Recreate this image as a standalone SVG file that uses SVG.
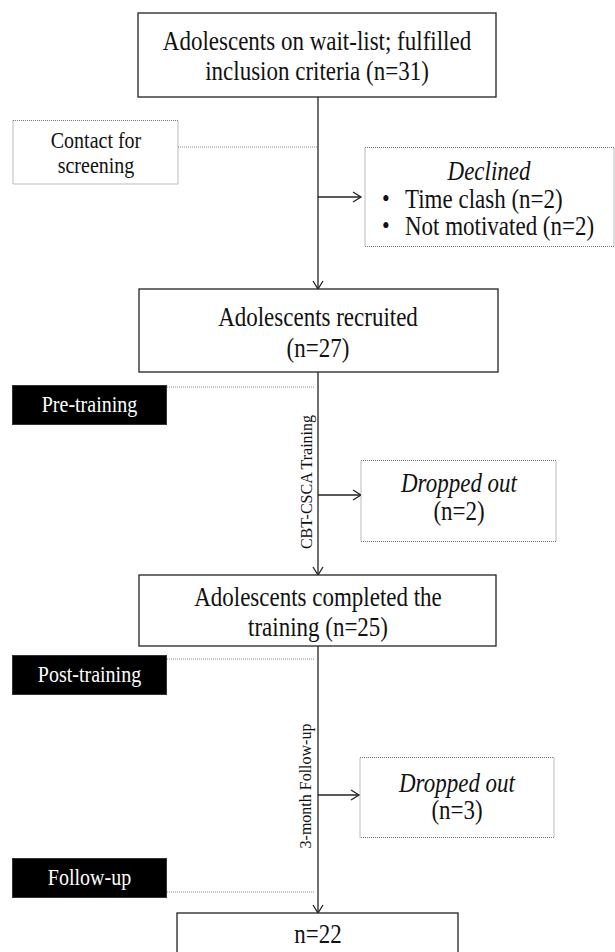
<svg xmlns="http://www.w3.org/2000/svg" width="615" height="952" viewBox="0 0 615 952">
<defs>
<style>
text{font-family:"Liberation Serif","Times New Roman",serif;fill:#111}
.t23{font-size:23px;text-anchor:middle}
.t20{font-size:20px;text-anchor:middle}
.rot{font-size:16px;text-anchor:middle}
.solid{fill:#fff;stroke:#222;stroke-width:1.3}
.dot{fill:#fff;stroke:#777;stroke-width:1;stroke-dasharray:1 1}
.blk{fill:#000;stroke:#333;stroke-width:1}
.wt{fill:#fff;font-size:20px;text-anchor:middle}
.line{stroke:#222;stroke-width:1.3;fill:none}
.dline{stroke:#888;stroke-width:1;stroke-dasharray:1 1;fill:none}
.it{font-style:italic}
</style>
<marker id="arr" markerUnits="userSpaceOnUse" markerWidth="14" markerHeight="14" refX="9" refY="6" orient="auto">
<path d="M1,1 L9,6 L1,11" fill="none" stroke="#222" stroke-width="1.3"/>
</marker>
</defs>
<rect width="615" height="952" fill="#fff"/>
<g id="connectors">
<line class="line" x1="318" y1="97" x2="318" y2="289" marker-end="url(#arr)"/>
<line class="line" x1="318" y1="197" x2="361" y2="197" marker-end="url(#arr)"/>
<line class="line" x1="318" y1="372" x2="318" y2="575" marker-end="url(#arr)"/>
<line class="line" x1="318" y1="495" x2="361" y2="495" marker-end="url(#arr)"/>
<line class="line" x1="318" y1="646" x2="318" y2="913" marker-end="url(#arr)"/>
<line class="line" x1="318" y1="795" x2="359" y2="795" marker-end="url(#arr)"/>
<line class="dline" x1="178" y1="147" x2="318" y2="147"/>
<line class="dline" x1="167" y1="387" x2="314" y2="387"/>
<line class="dline" x1="167" y1="659" x2="314" y2="659"/>
<line class="dline" x1="167" y1="892" x2="314" y2="892"/>
<text class="rot" transform="translate(312,482) rotate(-90)">CBT-CSCA Training</text>
<text class="rot" transform="translate(311,786) rotate(-90)">3-month Follow-up</text>
</g>
<g id="n1">
<rect class="solid" x="138" y="13" width="358" height="84"/>
<text class="t23" transform="translate(317,50) scale(1,1.15)">Adolescents on wait-list; fulfilled</text>
<text class="t23" transform="translate(317,80) scale(1,1.15)">inclusion criteria (n=31)</text>
</g>
<g id="contact">
<rect class="dot" x="13" y="120.5" width="165" height="63.5"/>
<text class="t20" transform="translate(96,148) scale(1,1.15)">Contact for</text>
<text class="t20" transform="translate(96,173) scale(1,1.15)">screening</text>
</g>
<g id="declined">
<rect class="dot" x="365" y="147.5" width="249" height="99"/>
<text class="t23 it" transform="translate(489,180) scale(1,1.15)">Declined</text>
<text style="font-size:22px" transform="translate(382,207) scale(1,1.15)">•</text>
<text style="font-size:23px" transform="translate(405,208) scale(1,1.15)">Time clash (n=2)</text>
<text style="font-size:22px" transform="translate(382,234) scale(1,1.15)">•</text>
<text style="font-size:23px" transform="translate(405,235) scale(1,1.15)">Not motivated (n=2)</text>
</g>
<g id="n2">
<rect class="solid" x="139" y="289" width="359" height="83"/>
<text class="t23" transform="translate(318,326) scale(1,1.15)">Adolescents recruited</text>
<text class="t23" transform="translate(318,357) scale(1,1.15)">(n=27)</text>
</g>
<g id="pre">
<rect class="blk" x="12.5" y="385.5" width="154" height="39"/>
<text class="wt" transform="translate(89.5,412) scale(1,1.15)">Pre-training</text>
</g>
<g id="drop1">
<rect class="dot" x="361" y="460.5" width="195" height="81"/>
<text class="t23 it" transform="translate(459,492) scale(1,1.15)">Dropped out</text>
<text class="t23" transform="translate(459,520) scale(1,1.15)">(n=2)</text>
</g>
<g id="n3">
<rect class="solid" x="139" y="575" width="357" height="71"/>
<text class="t23" transform="translate(318,606) scale(1,1.15)">Adolescents completed the</text>
<text class="t23" transform="translate(318,636) scale(1,1.15)">training (n=25)</text>
</g>
<g id="post">
<rect class="blk" x="12.5" y="655.5" width="154" height="39"/>
<text class="wt" transform="translate(89.5,682) scale(1,1.15)">Post-training</text>
</g>
<g id="drop2">
<rect class="dot" x="360" y="757.5" width="194" height="80"/>
<text class="t23 it" transform="translate(457,792) scale(1,1.15)">Dropped out</text>
<text class="t23" transform="translate(457,819) scale(1,1.15)">(n=3)</text>
</g>
<g id="fu">
<rect class="blk" x="12.5" y="858.5" width="154" height="39"/>
<text class="wt" transform="translate(89.5,885) scale(1,1.15)">Follow-up</text>
</g>
<g id="n4">
<rect class="solid" x="177" y="913" width="281" height="45"/>
<text class="t23" transform="translate(318,943) scale(1,1.15)">n=22</text>
</g>
</svg>
